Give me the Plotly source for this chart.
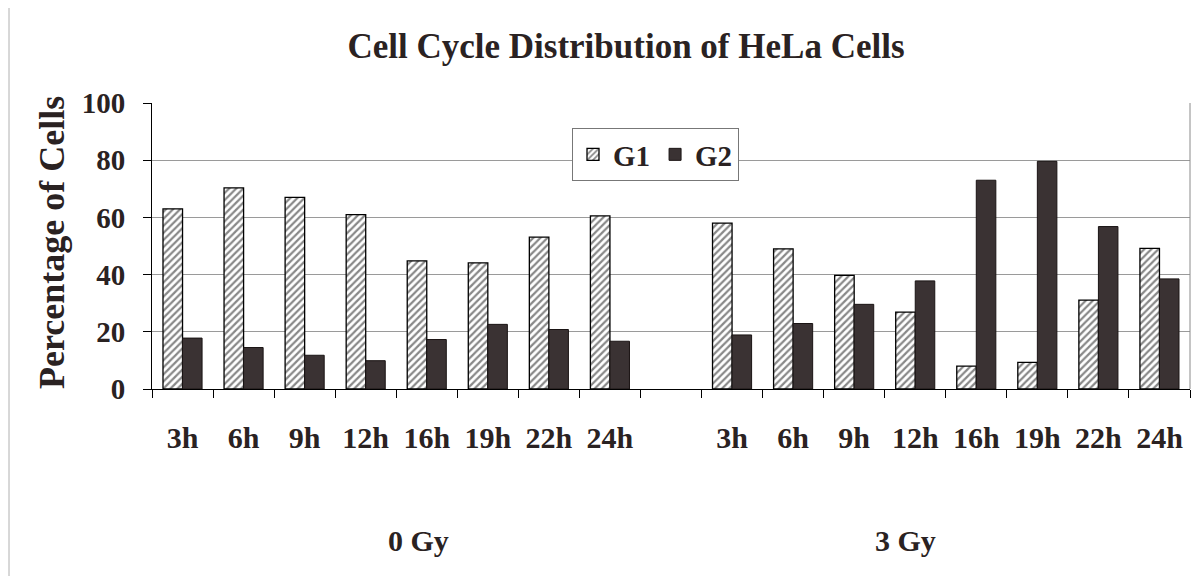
import plotly.graph_objects as go

# ---- data ----
hours = ["3h", "6h", "9h", "12h", "16h", "19h", "22h", "24h"]
doses = ["0 Gy", "3 Gy"]
g1_0gy = [63.0, 70.3, 67.0, 61.0, 44.8, 44.1, 53.1, 60.5]
g2_0gy = [17.8, 14.5, 11.8, 9.9, 17.3, 22.6, 20.8, 16.7]
g1_3gy = [58.0, 49.0, 39.7, 26.9, 8.0, 9.3, 31.1, 49.2]
g2_3gy = [18.9, 22.9, 29.6, 37.8, 73.0, 79.6, 56.8, 38.5]
y_ticks = [0, 20, 40, 60, 80, 100]

spacer = " "
cats_0 = [f"{doses[0]} {h}" for h in hours]
cats_3 = [f"{doses[1]} {h}" for h in hours]
category_order = cats_0 + [spacer] + cats_3
tick_text = hours + [""] + hours

x_all = cats_0 + cats_3
g1_all = g1_0gy + g1_3gy
g2_all = g2_0gy + g2_3gy

FONT = "Liberation Serif, Times New Roman, serif"
TXT = "#2a2222"
OFF = 8  # page body margin offset

W, H = 1200 - OFF, 576 - OFF
L, T = 152 - OFF, 103 - OFF
R = W - (1190 - OFF)
B = H - (389 - OFF)

fig = go.Figure()
fig.add_trace(go.Bar(
    name="G1", x=x_all, y=g1_all,
    marker=dict(color="white", line=dict(color="black", width=1.3),
                pattern=dict(shape="/", fgcolor="#111111", bgcolor="white",
                             size=5, solidity=0.45)),
))
fig.add_trace(go.Bar(
    name="G2", x=x_all, y=g2_all,
    marker=dict(color="#3a3233", line=dict(color="#1a1414", width=1)),
))

fig.update_layout(
    width=W, height=H,
    margin=dict(l=L, r=R, t=T, b=B),
    paper_bgcolor="white", plot_bgcolor="white",
    barmode="group", bargap=0.36, bargroupgap=0,
    font=dict(family=FONT, color=TXT),
    title=dict(text="Cell Cycle Distribution of HeLa Cells",
               font=dict(family=FONT, size=35, weight="bold", color=TXT),
               x=(626 - OFF) / W, xanchor="center", xref="container",
               y=1 - (46 - OFF) / H, yanchor="middle", yref="container"),
    legend=dict(orientation="h", x=(572 - 152) / 1038, y=(389 - 128) / 286,
                xanchor="left", yanchor="top",
                bordercolor="#777", borderwidth=1, bgcolor="white",
                font=dict(family=FONT, size=29, weight="bold", color=TXT),
                itemwidth=30),
    showlegend=True,
)

fig.update_xaxes(
    type="category", categoryorder="array", categoryarray=category_order,
    tickmode="array", tickvals=category_order, ticktext=tick_text,
    tickson="boundaries", ticks="outside", ticklen=8, tickcolor="black",
    showline=True, linecolor="black", linewidth=1, showgrid=False,
    tickfont=dict(family=FONT, size=30, weight="bold", color=TXT),
    ticklabelstandoff=22,
)
fig.update_yaxes(
    range=[0, 100], tickvals=y_ticks, ticks="outside", ticklen=8, tickcolor="black",
    showline=True, linecolor="black", linewidth=1,
    showgrid=True, gridcolor="#9a9a9a", gridwidth=1, zeroline=False,
    tickfont=dict(family=FONT, size=29, weight="bold", color=TXT),
    ticklabelstandoff=12,
)

annos = [
    dict(text="Percentage of Cells", textangle=-90, x=(52 - 152) / 1038, y=(389 - 243) / 286,
         xref="paper", yref="paper", showarrow=False, xanchor="center", yanchor="middle",
         font=dict(family=FONT, size=36, weight="bold", color=TXT)),
    dict(text=doses[0], x=(418 - 152) / 1038, y=(389 - 540) / 286,
         xref="paper", yref="paper", showarrow=False, xanchor="center", yanchor="middle",
         font=dict(family=FONT, size=30, weight="bold", color=TXT)),
    dict(text=doses[1], x=(905 - 152) / 1038, y=(389 - 540) / 286,
         xref="paper", yref="paper", showarrow=False, xanchor="center", yanchor="middle",
         font=dict(family=FONT, size=30, weight="bold", color=TXT)),
]
fig.update_layout(annotations=annos)

fig.add_shape(type="line", xref="paper", yref="paper", x0=1, x1=1, y0=0, y1=1,
              line=dict(color="#8a8a8a", width=1))
fig.add_shape(type="line", xref="paper", yref="paper",
              x0=(1 - L) / 1038, x1=(1 - L) / 1038,
              y0=-B / 286, y1=(286 + T) / 286,
              line=dict(color="#b0b0b0", width=1))

fig.write_html("out.html")
